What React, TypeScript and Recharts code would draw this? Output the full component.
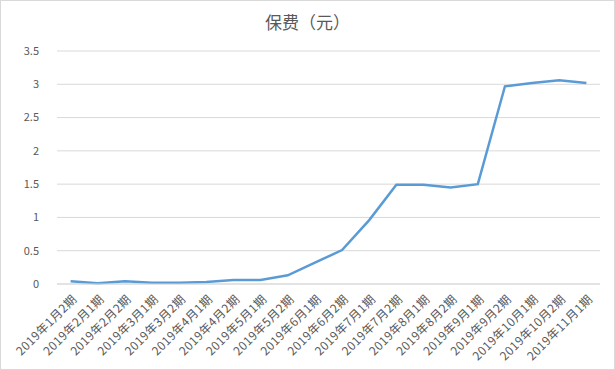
import React from "react";
import { LineChart, Line, XAxis, YAxis, CartesianGrid } from "recharts";

const PERIODS = [
  "2019年1月2期",
  "2019年2月1期",
  "2019年2月2期",
  "2019年3月1期",
  "2019年3月2期",
  "2019年4月1期",
  "2019年4月2期",
  "2019年5月1期",
  "2019年5月2期",
  "2019年6月1期",
  "2019年6月2期",
  "2019年7月1期",
  "2019年7月2期",
  "2019年8月1期",
  "2019年8月2期",
  "2019年9月1期",
  "2019年9月2期",
  "2019年10月1期",
  "2019年10月2期",
  "2019年11月1期",
];

const PREMIUM = [
  0.04, 0.01, 0.04, 0.02, 0.02, 0.03, 0.06, 0.06, 0.13, 0.32, 0.51, 0.96,
  1.49, 1.49, 1.45, 1.5, 2.97, 3.02, 3.06, 3.02,
];

const Y_TICKS = [0, 0.5, 1, 1.5, 2, 2.5, 3, 3.5];

const FONT = '"Noto Sans CJK SC", "Noto Sans", sans-serif';
const TEXT = "#595959";

// rotated category label, ends just under the tick
function AngledTick(props: any) {
  const { x, y, payload } = props;
  const ax = x + 7;
  const ay = y + 8;
  return (
    <text
      x={ax}
      y={ay}
      transform={`rotate(-45, ${ax}, ${ay})`}
      textAnchor="end"
      fontSize={12}
      letterSpacing={0.4}
      fill={TEXT}
      fontFamily={FONT}
    >
      {payload.value}
    </text>
  );
}

export default function App() {
  const data = PERIODS.map((p, i) => ({ period: p, value: PREMIUM[i] }));

  return (
    <div
      style={{
        position: "absolute",
        left: 0,
        top: 0,
        width: 613,
        height: 368,
        border: "1px solid #d9d9d9",
        background: "#fff",
        fontFamily: FONT,
      }}
    >
      <div
        style={{
          position: "absolute",
          left: 0,
          top: 8,
          width: 613,
          textAlign: "center",
          fontSize: 17,
          color: TEXT,
        }}
      >
        保费（元）
      </div>
      <LineChart
        width={613}
        height={368}
        data={data}
        margin={{ top: 50, right: 14, bottom: 0, left: 0 }}
      >
        <CartesianGrid vertical={false} stroke="#d9d9d9" />
        <XAxis
          dataKey="period"
          interval={0}
          tickLine={false}
          axisLine={{ stroke: "#d9d9d9" }}
          tick={<AngledTick />}
          height={85}
          padding={{ left: 13.6, right: 13.6 }}
        />
        <YAxis
          width={56}
          domain={[0, 3.5]}
          ticks={Y_TICKS}
          tickLine={false}
          axisLine={false}
          tickMargin={12}
          tick={{ fontSize: 11, fill: TEXT, fontFamily: FONT }}
        />
        <Line
          type="linear"
          dataKey="value"
          stroke="#5b9bd5"
          strokeWidth={2.5}
          dot={false}
          isAnimationActive={false}
        />
      </LineChart>
    </div>
  );
}
